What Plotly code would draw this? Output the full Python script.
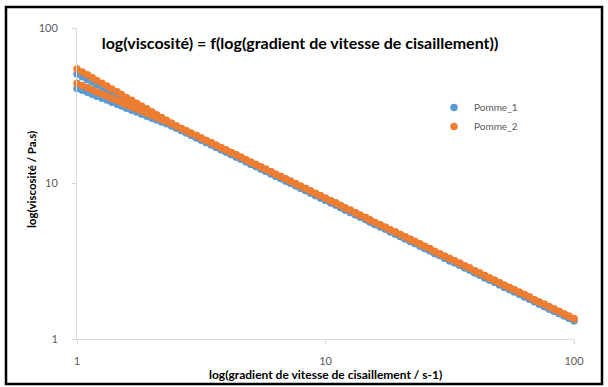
import plotly.graph_objects as go

# Shear rate sweep (s-1), 50 points per decade
shear_rate = [
    1.00, 1.05, 1.10, 1.15, 1.20, 1.26, 1.32, 1.38, 1.45, 1.51,
    1.58, 1.66, 1.74, 1.82, 1.91, 2.00, 2.09, 2.19, 2.29, 2.40,
    2.51, 2.63, 2.75, 2.88, 3.02, 3.16, 3.31, 3.47, 3.63, 3.80,
    3.98, 4.17, 4.37, 4.57, 4.79, 5.01, 5.25, 5.50, 5.75, 6.03,
    6.31, 6.61, 6.92, 7.24, 7.59, 7.94, 8.32, 8.71, 9.12, 9.55,
    10.0, 10.5, 11.0, 11.5, 12.0, 12.6, 13.2, 13.8, 14.5, 15.1,
    15.8, 16.6, 17.4, 18.2, 19.1, 20.0, 20.9, 21.9, 22.9, 24.0,
    25.1, 26.3, 27.5, 28.8, 30.2, 31.6, 33.1, 34.7, 36.3, 38.0,
    39.8, 41.7, 43.7, 45.7, 47.9, 50.1, 52.5, 55.0, 57.5, 60.3,
    63.1, 66.1, 69.2, 72.4, 75.9, 79.4, 83.2, 87.1, 91.2, 95.5,
    100.0,
]

# Viscosity (Pa.s), first and second sweep
pomme1_aller = [
    50.6, 48.6, 46.7, 44.9, 43.1, 41.4, 39.8, 38.2, 36.8, 35.3,
    33.9, 32.6, 31.3, 30.1, 28.9, 27.7, 26.6, 25.6, 24.6, 23.7,
    22.75, 21.95, 21.19, 20.44, 19.72, 19.03, 18.36, 17.72, 17.10, 16.50,
    15.93, 15.36, 14.83, 14.31, 13.80, 13.32, 12.85, 12.40, 11.97, 11.55,
    11.14, 10.75, 10.37, 10.02, 9.66, 9.33, 9.00, 8.68, 8.38, 8.08,
    7.80, 7.52, 7.26, 7.01, 6.76, 6.52, 6.30, 6.08, 5.86, 5.66,
    5.45, 5.27, 5.09, 4.90, 4.73, 4.56, 4.41, 4.25, 4.11, 3.96,
    3.82, 3.69, 3.55, 3.44, 3.31, 3.19, 3.09, 2.98, 2.87, 2.78,
    2.67, 2.58, 2.48, 2.40, 2.32, 2.23, 2.15, 2.08, 2.01, 1.94,
    1.87, 1.81, 1.74, 1.68, 1.62, 1.56, 1.51, 1.46, 1.41, 1.36,
    1.31,
]
pomme1_retour = [
    40.9, 39.8, 38.6, 37.5, 36.4, 35.3, 34.4, 33.3, 32.3, 31.5,
    30.5, 29.6, 28.8, 27.9, 27.1, 26.3, 25.6, 24.9, 24.2, 23.4,
    22.75, 21.95, 21.19, 20.44, 19.72, 19.03, 18.36, 17.72, 17.10, 16.50,
    15.93, 15.36, 14.83, 14.31, 13.80, 13.32, 12.85, 12.40, 11.97, 11.55,
    11.14, 10.75, 10.37, 10.02, 9.66, 9.33, 9.00, 8.68, 8.38, 8.08,
    7.80, 7.52, 7.26, 7.01, 6.76, 6.52, 6.30, 6.08, 5.86, 5.66,
    5.45, 5.27, 5.09, 4.90, 4.73, 4.56, 4.41, 4.25, 4.11, 3.96,
    3.82, 3.69, 3.55, 3.44, 3.31, 3.19, 3.09, 2.98, 2.87, 2.78,
    2.67, 2.58, 2.48, 2.40, 2.32, 2.23, 2.15, 2.08, 2.01, 1.94,
    1.87, 1.81, 1.74, 1.68, 1.62, 1.56, 1.51, 1.46, 1.41, 1.36,
    1.31,
]
pomme2_aller = [
    54.5, 52.2, 50.0, 48.0, 46.0, 44.1, 42.3, 40.5, 38.9, 37.3,
    35.7, 34.3, 32.8, 31.5, 30.2, 28.9, 27.7, 26.6, 25.5, 24.5,
    23.44, 22.62, 21.83, 21.06, 20.32, 19.61, 18.92, 18.26, 17.62, 17.00,
    16.41, 15.83, 15.28, 14.74, 14.22, 13.72, 13.24, 12.78, 12.33, 11.90,
    11.48, 11.08, 10.69, 10.32, 9.95, 9.61, 9.27, 8.94, 8.63, 8.33,
    8.04, 7.75, 7.48, 7.22, 6.97, 6.72, 6.49, 6.26, 6.04, 5.83,
    5.62, 5.43, 5.24, 5.05, 4.87, 4.70, 4.54, 4.38, 4.23, 4.08,
    3.94, 3.80, 3.66, 3.54, 3.41, 3.29, 3.18, 3.07, 2.96, 2.86,
    2.75, 2.66, 2.56, 2.47, 2.39, 2.30, 2.22, 2.14, 2.07, 2.00,
    1.93, 1.86, 1.79, 1.73, 1.67, 1.61, 1.56, 1.50, 1.45, 1.40,
    1.35,
]
pomme2_retour = [
    44.1, 42.7, 41.4, 40.1, 38.8, 37.6, 36.5, 35.3, 34.2, 33.2,
    32.1, 31.1, 30.2, 29.2, 28.3, 27.4, 26.6, 25.8, 25.0, 24.2,
    23.44, 22.62, 21.83, 21.06, 20.32, 19.61, 18.92, 18.26, 17.62, 17.00,
    16.41, 15.83, 15.28, 14.74, 14.22, 13.72, 13.24, 12.78, 12.33, 11.90,
    11.48, 11.08, 10.69, 10.32, 9.95, 9.61, 9.27, 8.94, 8.63, 8.33,
    8.04, 7.75, 7.48, 7.22, 6.97, 6.72, 6.49, 6.26, 6.04, 5.83,
    5.62, 5.43, 5.24, 5.05, 4.87, 4.70, 4.54, 4.38, 4.23, 4.08,
    3.94, 3.80, 3.66, 3.54, 3.41, 3.29, 3.18, 3.07, 2.96, 2.86,
    2.75, 2.66, 2.56, 2.47, 2.39, 2.30, 2.22, 2.14, 2.07, 2.00,
    1.93, 1.86, 1.79, 1.73, 1.67, 1.61, 1.56, 1.50, 1.45, 1.40,
    1.35,
]

series_names = ["Pomme_1", "Pomme_2"]
series_colors = ["#5B9BD5", "#ED7D31"]
tick_vals = [1, 10, 100]
tick_text = ["1", "10", "100"]

FONT = "Lato"
W, H = 608, 387
L, R, T, B = 77, 34, 28, 48
PW, PH = W - L - R, H - T - B


def px_to_paper_x(px):
    return (px - L) / PW


def px_to_paper_y(py):
    return (H - B - py) / PH


fig = go.Figure()
for name, color, aller, retour in [
    (series_names[0], series_colors[0], pomme1_aller, pomme1_retour),
    (series_names[1], series_colors[1], pomme2_aller, pomme2_retour),
]:
    fig.add_trace(go.Scatter(
        x=shear_rate + shear_rate,
        y=aller + retour,
        mode="markers",
        name=name,
        marker=dict(size=7.5, color=color, line=dict(width=0)),
        cliponaxis=False,
    ))

axis_common = dict(
    type="log",
    range=[0, 2],
    showgrid=False,
    zeroline=False,
    showline=True,
    linecolor="#D9D9D9",
    linewidth=1,
    ticks="outside",
    ticklen=4,
    tickcolor="#D9D9D9",
    tickvals=tick_vals,
    ticktext=tick_text,
    tickfont=dict(family=FONT, size=11, color="#595959"),
)

fig.update_layout(
    width=W,
    height=H,
    margin=dict(l=L, r=R, t=T, b=B),
    paper_bgcolor="white",
    plot_bgcolor="white",
    xaxis=dict(**axis_common, ticklabelstandoff=8),
    yaxis=dict(**axis_common, ticklabelstandoff=12),
    title=dict(
        text="<b>log(viscosité) = f(log(gradient de vitesse de cisaillement))</b>",
        x=300 / W,
        xanchor="center",
        y=1 - 43 / H,
        yanchor="middle",
        font=dict(family=FONT, size=16, color="#000000"),
    ),
    legend=dict(
        x=px_to_paper_x(434),
        y=px_to_paper_y(93),
        xanchor="left",
        yanchor="top",
        bgcolor="rgba(0,0,0,0)",
        font=dict(family=FONT, size=10, color="#595959"),
        itemwidth=30,
    ),
    showlegend=True,
)

# Axis titles
fig.add_annotation(
    text="<b>log(gradient de vitesse de cisaillement / s-1)</b>",
    xref="paper", yref="paper",
    x=px_to_paper_x(325), y=px_to_paper_y(374),
    xanchor="center", yanchor="middle",
    showarrow=False,
    font=dict(family=FONT, size=12, color="#000000"),
)
fig.add_annotation(
    text="<b>log(viscosité / Pa.s)</b>",
    xref="paper", yref="paper",
    x=px_to_paper_x(31), y=px_to_paper_y(180),
    xanchor="center", yanchor="middle",
    textangle=-90,
    showarrow=False,
    font=dict(family=FONT, size=11.5, color="#000000"),
)

# Chart frame
fig.add_shape(
    type="rect",
    xref="paper", yref="paper",
    x0=px_to_paper_x(6), x1=px_to_paper_x(602),
    y0=px_to_paper_y(384), y1=px_to_paper_y(7),
    line=dict(color="#000000", width=2.5),
    fillcolor="rgba(0,0,0,0)",
    layer="above",
)

fig.write_html("out.html")
